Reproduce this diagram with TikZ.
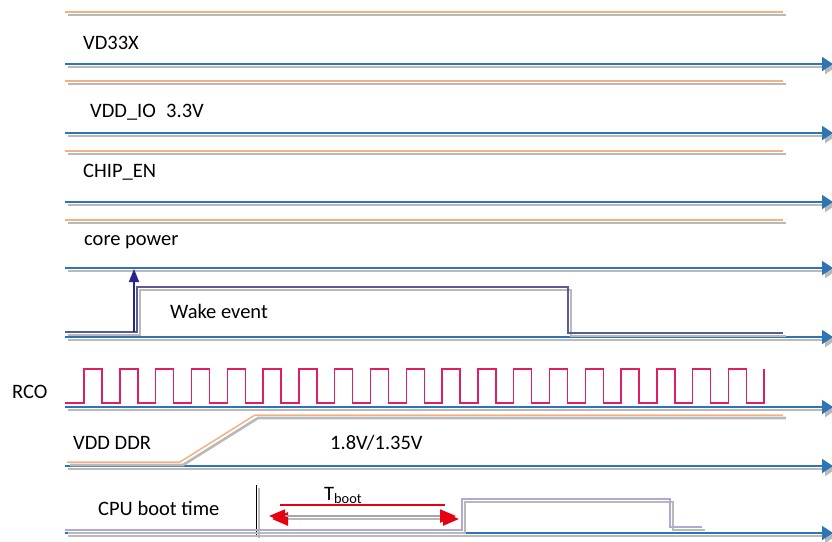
\documentclass[tikz,border=0pt]{standalone}
\usepackage{fontspec}
\setmainfont{Carlito}
\usetikzlibrary{arrows.meta}
\definecolor{axisblue}{RGB}{46,117,182}
\definecolor{peach}{RGB}{244,177,131}
\definecolor{wakeblue}{RGB}{90,90,150}
\definecolor{navyarrow}{RGB}{40,40,140}
\definecolor{rcored}{RGB}{225,30,100}
\definecolor{lavender}{RGB}{180,167,214}
\definecolor{tbred}{RGB}{230,0,18}

\begin{document}
\begin{tikzpicture}[x=1pt,y=-1pt,
  shade line/.style={preaction={draw=gray!55,line width=2.6pt,transform canvas={shift={(3pt,-3pt)}}}},
  axis/.style={draw=axisblue,line width=1.8pt,-{Triangle[length=11pt,width=14pt]},shade line},
  level/.style={draw=peach,line width=1.5pt,shade line},
  label/.style={inner sep=0pt,anchor=west,font=\fontsize{20.5}{24}\selectfont}]
\useasboundingbox (0,0) rectangle (832,541);
% axes:
\foreach \n/\y in {1/64,2/133,3/202,4/268,5/337,6/407,7/466,8/533}{
  \coordinate (s\n) at (65,\y);
  \coordinate (e\n) at (833,\y);
  \draw[axis] (s\n) -- (e\n);
}
% high levels:
\foreach \y in {12,81,151,220}
  \draw[level] (65,\y) -- (783,\y);
% labels:
\node[label] (vd33x) at (83,43) {VD33X};
\node[label] (vddio) at (90,112) {VDD\_IO\enspace 3.3V};
\node[label] (chipen) at (83,172) {CHIP\_EN};
\node[label] (core) at (84,242) {core power};
\node[label] (wake) at (170,311) {Wake event};
\node[label] (rco) at (12,392) {RCO};
\node[label] (vddddr) at (73,443) {VDD DDR};
\node[label] (ddrv) at (330,443) {1.8V/1.35V};
\node[label] (cpu) at (98,508) {CPU boot time};
% wake event:
\draw[draw=wakeblue,line width=1.4pt,shade line] (65,332) -- (137,332) -- (137,287) -- (568,287) -- (568,333) -- (783,333);
\coordinate (wk0) at (134,332);
\coordinate (wk1) at (134,269);
\draw[navyarrow,line width=1.8pt,-{Triangle[length=13pt,width=10pt]}] (wk0) -- (wk1);
% rco clock:
\draw[rcored,line width=1.4pt] (65,403) foreach \i in {0,...,18}{ -- ({84+35.8*\i},403) -- ++(0,-34) -- ++(18,0) -- ++(0,34) } -- (764,403) -- (764,369);
% vdd ddr ramp:
\draw[level] (67,462) -- (180,462) -- (255,415) -- (783,415);
% cpu boot:
\draw[black,line width=1pt,shade line] (256,485) -- (256,535);
\draw[draw=lavender,line width=1.5pt,shade line] (65,530) -- (462,530) -- (462,499) -- (670,499) -- (670,527) -- (702,527);
\node[inner sep=0pt,anchor=south west,font=\fontsize{20.5}{24}\selectfont] (tboot) at (324,504) {T\textsubscript{boot}};
\draw[tbred,line width=1.3pt] (280,505) -- (445,505);
\coordinate (tb0) at (269,516);
\coordinate (tb1) at (456,516);
\draw[draw=gray!70,line width=1.8pt,shade line,
  {Triangle[color=tbred,length=16pt,width=13pt]}-{Triangle[color=tbred,length=16pt,width=13pt]}] (tb0) -- (tb1);
\end{tikzpicture}
\end{document}
